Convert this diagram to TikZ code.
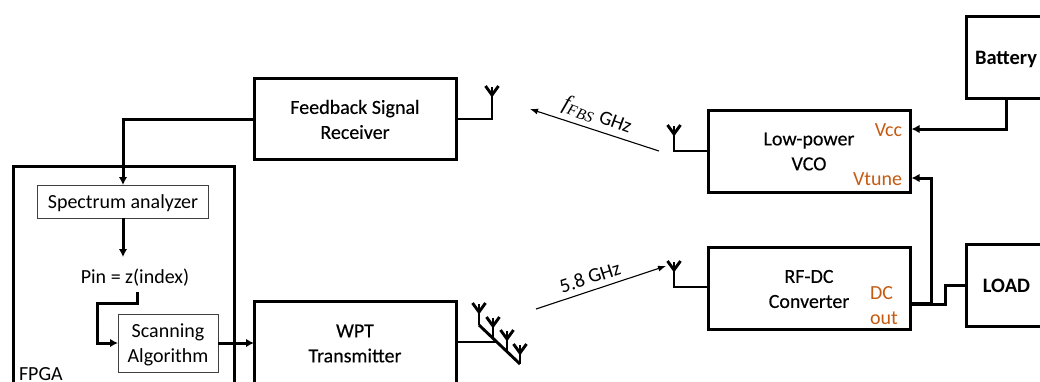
\documentclass[tikz,border=0pt]{standalone}
\usepackage{fontspec}
\setmainfont{Carlito}
\newfontfamily\blkfont[FakeBold=0.25]{Carlito}
\newfontfamily\symfont[Ligatures=TeX]{Liberation Serif}
\usetikzlibrary{arrows.meta}
\definecolor{port}{HTML}{C55A11}
\definecolor{thinbox}{HTML}{404040}
\tikzset{
  x=1pt,y=-1pt,
  every node/.style={font=\fontsize{20}{25}\selectfont,inner sep=0pt,outer sep=0pt},
  boldtxt/.style={font=\fontsize{20.5}{25}\selectfont\bfseries},
  blktxt/.style={font=\fontsize{20}{25}\selectfont\blkfont,align=center},
  subtxt/.style={align=center},
  blk/.style={draw=black,line width=3pt,fill=none},
  sub/.style={draw=thinbox,line width=1pt},
  wire/.style={draw=black,line width=3pt,line join=miter},
  arrowwire/.style={wire,-{Latex[length=8pt,width=8.5pt]}},
  beam/.style={draw=black,line width=1.1pt,-{Latex[length=8pt,width=6pt]}},
  ant/.style={draw=black,line width=2.9pt},
  portlbl/.style={text=port,align=left},
}
\newcommand{\antY}[3]{% x, ytop, name
  \coordinate (#3) at (#1,#2+9);
  \draw[ant] (#1-6.5,#2) -- (#3) -- (#1+6.5,#2);
  \draw[ant] (#1,#2+1) -- (#3);
}
\begin{document}
\begin{tikzpicture}
\useasboundingbox (0,0) rectangle (1040,381);
\clip (0,0) rectangle (1040,381);
% blocks
\node[blk,minimum width=202pt,minimum height=81pt] (fbr) at (355,118.5) {};
\node[blktxt] (fbrlbl) at (355,119.5) {Feedback Signal\\Receiver};
\node[blk,minimum width=221pt,minimum height=240pt] (fpga) at (123.5,286) {};
\node[sub,minimum width=171pt,minimum height=33pt] (spec) at (123,201.5) {};
\node (speclbl) at (123,203) {Spectrum analyzer};
\node (pin) at (135,277.5) {Pin = z(index)};
\node[sub,minimum width=100pt,minimum height=58pt] (scan) at (168,343) {};
\node[subtxt] (scanlbl) at (168,345) {Scanning\\Algorithm};
\node[blk,minimum width=202pt,minimum height=84pt] (wpt) at (355,343) {};
\node[blktxt] (wptlbl) at (355,343.5) {WPT\\Transmitter};
\node[anchor=west] (fpgalbl) at (19,374) {FPGA};
\node[blk,minimum width=202pt,minimum height=82pt] (vco) at (809,151) {};
\node[blktxt] (vcolbl) at (809,151.5) {Low-power\\VCO};
\node[blk,minimum width=202pt,minimum height=82pt] (rect) at (809,288) {};
\node[blktxt] (rectlbl) at (809,289) {RF-DC\\Converter};
\node[blk,minimum width=80pt,minimum height=82pt] (batt) at (1006,57) {};
\node[boldtxt] (battlbl) at (1006,59) {Battery};
\node[blk,minimum width=94pt,minimum height=82pt] (load) at (1013,285) {};
\node[boldtxt] (loadlbl) at (1006.5,286) {LOAD};
% port labels
\node[portlbl,anchor=east] (vcc) at (902,130) {Vcc};
\node[portlbl,anchor=east] (vtune) at (902,179.5) {Vtune};
\node[portlbl,anchor=west] (dc) at (870,293) {DC};
\node[portlbl,anchor=west] (out) at (870,318) {out};
% signal flow in the FPGA
\draw[arrowwire] (fbr.west |- 0,119) -| (spec.north);
\coordinate (pinin) at (123,257);
\draw[arrowwire] (spec.south) -- (pinin);
\coordinate (pinout) at (137,292);
\coordinate (pinbend) at (137,303);
\coordinate (pinleft) at (97,303);
\coordinate (pindown) at (97,343);
\draw[arrowwire] (pinout) -- (pinbend) -- (pinleft) -- (pindown) -- (scan.west);
\draw[arrowwire] (scan.east) -- (wpt.west);
% power
\coordinate (vccin) at (911.5,129);
\coordinate (vtunein) at (911.5,178);
\coordinate (dcout) at (910,304);
\coordinate (tap) at (931,304);
\coordinate (lb1) at (945,304);
\coordinate (lb2) at (945,285);
\draw[arrowwire] (batt.south) |- (vccin);
\draw[arrowwire] (tap) |- (vtunein);
\draw[wire] (dcout) -- (lb1) -- (lb2) -- (load.west);
\draw[wire,line width=3.6pt] (dcout) -- (tap);
% single antennas
\antY{492}{86}{a1}
\draw[ant] (fbr.east |- 0,119) -- (492,119) -- (a1);
\antY{674}{125}{a2}
\draw[ant] (vco.west |- 0,151) -- (674,151) -- (a2);
\antY{674}{261}{a3}
\draw[ant] (rect.west |- 0,287) -- (674,287) -- (a3);
% antenna array
\coordinate (d1) at (479,325);
\coordinate (d2) at (520,364);
\draw[ant] (d1) -- (d2);
\draw[ant] (wpt.east |- 0,342) -- (497,342);
\antY{479}{303}{b1}
\antY{493}{317}{b2}
\antY{507}{330}{b3}
\antY{520}{344}{b4}
\draw[ant] (b1) -- (d1);
\draw[ant] (b2) -- (493,339);
\draw[ant] (b3) -- (507,352);
\draw[ant] (b4) -- (d2);
% links
\coordinate (l1s) at (659,151);
\coordinate (l1e) at (530,109);
\coordinate (l2s) at (536,309);
\coordinate (l2e) at (666,266);
\draw[beam] (l1s) -- (l1e);
\draw[beam] (l2s) -- (l2e);
\node[rotate=-20] (l1lbl) at (597,116) {{\symfont\itshape\fontsize{22}{25}\selectfont f\textsubscript{FBS}}\hspace{1pt} GHz};
\node[rotate=18] (l2lbl) at (590,277) {5.8 GHz};
\end{tikzpicture}
\end{document}
